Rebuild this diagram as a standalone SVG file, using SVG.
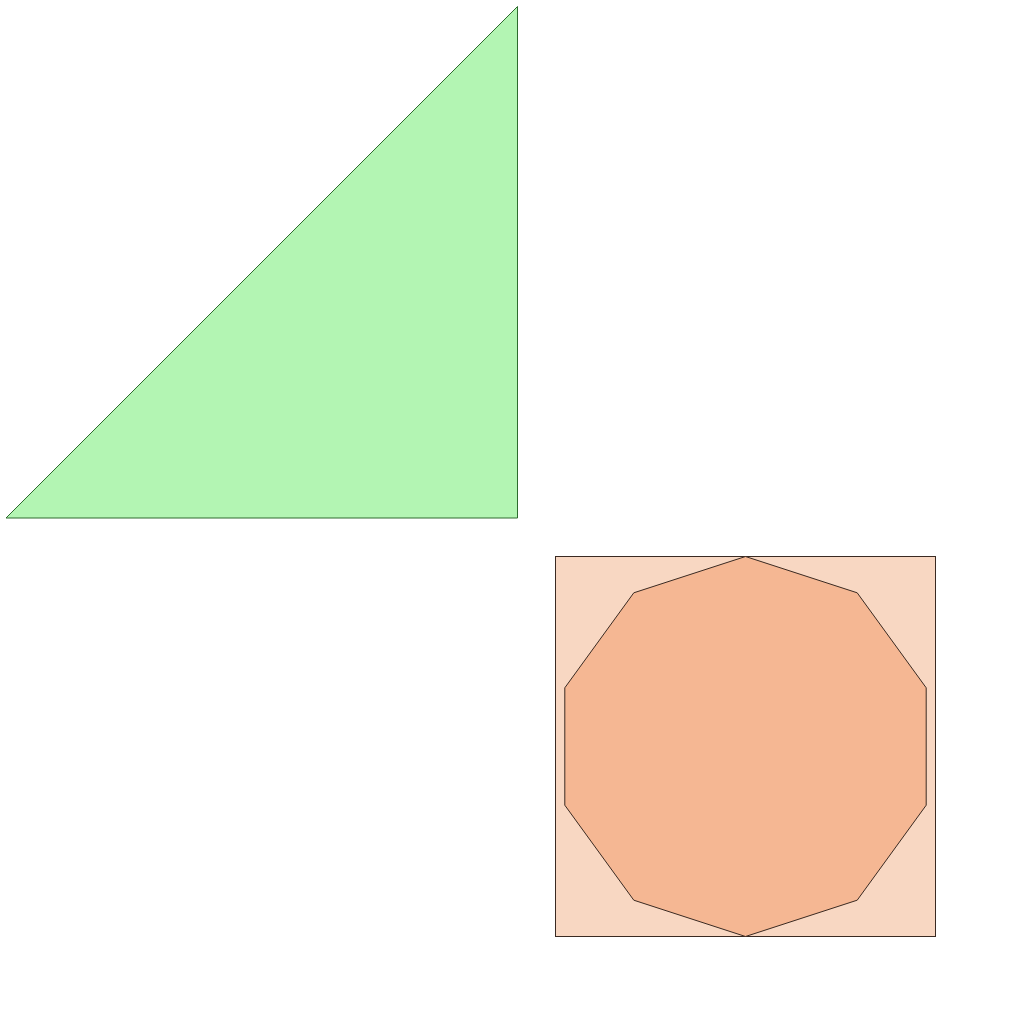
<svg xmlns="http://www.w3.org/2000/svg" width="1024" height="1024" viewBox="0 0 1024 1024">
<style>
.tri{fill:#b3f5b3;stroke:#2e6b2e;stroke-width:1}
.sq{fill:#f8d7c2;stroke:#3a2a22;stroke-width:1}
.dec{fill:#f5b793;stroke:#3a2a22;stroke-width:1}
</style>
<rect width="1024" height="1024" fill="#ffffff"/>
<g id="triangle"><polygon class="tri" points="6,518 517.5,6.5 517.5,518"/></g>
<g id="square"><rect class="sq" x="555.5" y="556.5" width="380" height="380"/></g>
<g id="decagon"><polygon class="dec" points="745.5,556.5 857.2,592.8 926.2,687.8 926.2,805.2 857.2,900.2 745.5,936.5 633.8,900.2 564.8,805.2 564.8,687.8 633.8,592.8"/></g>
</svg>
